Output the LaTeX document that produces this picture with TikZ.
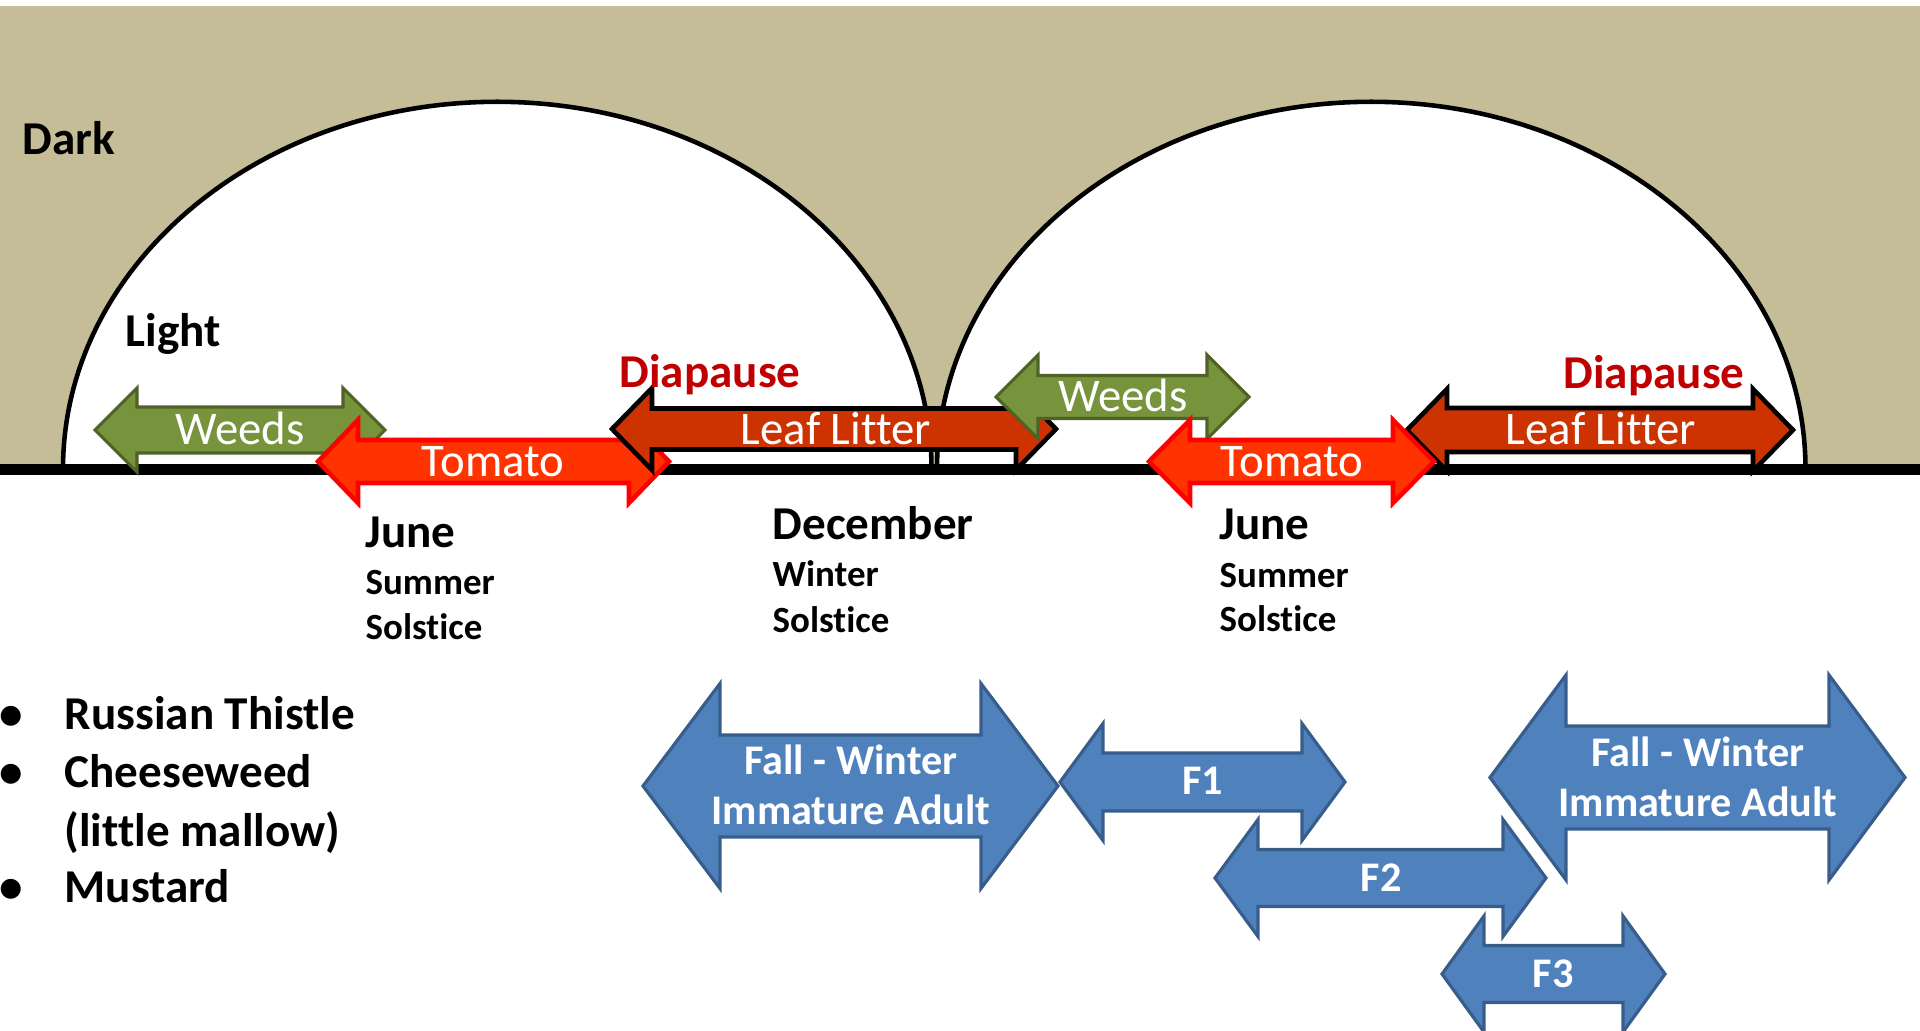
\documentclass[tikz,border=0pt]{standalone}
\usepackage{fontspec}
\setmainfont{Carlito}[Ligatures=NoCommon]

\definecolor{tanbg}{HTML}{C4BD97}
\definecolor{weedgreen}{HTML}{77933C}
\definecolor{weedline}{HTML}{4F6228}
\definecolor{tomatored}{HTML}{FF3300}
\definecolor{litterred}{HTML}{CC3300}
\definecolor{stageblue}{HTML}{4F81BD}
\definecolor{stageline}{HTML}{385D8A}
\definecolor{diared}{HTML}{C00000}

% style, left tip, right tip, middle, half height, half body, head length
\newcommand{\twoway}[7]{%
  \draw[#1] (#2,#4) -- ({#2+#7},{#4-#5}) -- ({#2+#7},{#4-#6}) -- ({#3-#7},{#4-#6})
    -- ({#3-#7},{#4-#5}) -- (#3,#4) -- ({#3-#7},{#4+#5}) -- ({#3-#7},{#4+#6})
    -- ({#2+#7},{#4+#6}) -- ({#2+#7},{#4+#5}) -- cycle;}

\tikzset{
  bigtext/.style={font=\fontsize{13.4}{16}\selectfont\bfseries, inner sep=0, anchor=base west},
  smalltext/.style={font=\fontsize{10.5}{12}\selectfont\bfseries, inner sep=0, anchor=base west},
  bandtext/.style={font=\fontsize{13.3}{16}\selectfont, text=white, inner sep=0, anchor=base},
  stagetext/.style={font=\fontsize{12}{14}\selectfont\bfseries, text=white, inner sep=0, anchor=base},
  weedsband/.style={fill=weedgreen, draw=weedline, line width=0.9pt},
  tomatoband/.style={fill=tomatored, draw=red, line width=1.3pt},
  litterband/.style={fill=litterred, draw=black, line width=1.3pt},
  stageband/.style={fill=stageblue, draw=stageline, line width=0.9pt},
}

\begin{document}
\begin{tikzpicture}[x=0.01cm, y=-0.01cm]

    \useasboundingbox (0,0) rectangle (1920,1031);

    \fill[tanbg] (0,6) rectangle (1920,469);
    \fill[white] (63,469) arc[start angle=180, end angle=0, x radius=4.34cm, y radius=3.67cm] -- cycle;
    \fill[white] (937,469) arc[start angle=180, end angle=0, x radius=4.34cm, y radius=3.67cm] -- cycle;
    \draw[line width=1.3pt] (63,469) arc[start angle=180, end angle=0, x radius=4.34cm, y radius=3.67cm];
    \draw[line width=1.3pt] (937,469) arc[start angle=180, end angle=0, x radius=4.34cm, y radius=3.67cm];
    \draw[line width=3.1pt] (0,469.5) -- (1920,469.5);

    \node[bigtext] (dark) at (22,155) {Dark};
    \node[bigtext] (light) at (125,347) {Light};

    \twoway{weedsband}{95}{385}{430}{42}{23}{42}
    \node[bandtext] (weeds1) at (240,445) {Weeds};
    \twoway{tomatoband}{318}{669}{461.5}{41.5}{21.5}{40}
    \node[bandtext] (tomato1) at (493,477) {Tomato};
    \twoway{litterband}{612}{1056}{429}{41}{20.5}{40}
    \node[bandtext] (litter1) at (836,445) {Leaf Litter};
    \twoway{weedsband}{996}{1249}{397}{42}{21.5}{42}
    \node[bandtext] (weeds2) at (1123,412) {Weeds};
    \twoway{litterband}{1407}{1793}{430}{41}{22}{40}
    \node[bandtext] (litter2) at (1601,445) {Leaf Litter};
    \twoway{tomatoband}{1149}{1434}{461.5}{41.5}{21.5}{41}
    \node[bandtext] (tomato2) at (1292,477) {Tomato};

    \node[bigtext, text=diared] (diapause1) at (619,388) {Diapause};
    \node[bigtext, text=diared] (diapause2) at (1563,389) {Diapause};

    \node[bigtext] (june1) at (365,548) {June};
    \node[smalltext] (summer1) at (365,595) {Summer};
    \node[smalltext] (solstice1) at (365,640) {Solstice};
    \node[bigtext] (december) at (772,540) {December};
    \node[smalltext] (winter) at (772,587) {Winter};
    \node[smalltext] (solstice2) at (772,633) {Solstice};
    \node[bigtext] (june2) at (1219,540) {June};
    \node[smalltext] (summer2) at (1219,588) {Summer};
    \node[smalltext] (solstice3) at (1219,632) {Solstice};

    \node[bigtext, anchor=base] (dot1) at (11,730) {\textbullet};
    \node[bigtext] (thistle) at (64,730) {Russian Thistle};
    \node[bigtext, anchor=base] (dot2) at (11,788) {\textbullet};
    \node[bigtext] (cheeseweed) at (64,788) {Cheeseweed};
    \node[bigtext] (mallow) at (64,847) {(little mallow)};
    \node[bigtext, anchor=base] (dot3) at (11,903) {\textbullet};
    \node[bigtext] (mustard) at (64,903) {Mustard};

    \twoway{stageband}{643}{1058}{786}{102.5}{51}{77}
    \node[stagetext] (fall1) at (851,775) {Fall - Winter};
    \node[stagetext] (adult1) at (851,825) {Immature Adult};
    \twoway{stageband}{1060}{1345}{782}{58.5}{29}{43}
    \node[stagetext] (f1) at (1203,795) {F1};
    \twoway{stageband}{1215}{1546}{878}{58.5}{28.5}{43}
    \node[stagetext] (f2) at (1381,892) {F2};
    \twoway{stageband}{1490}{1905}{777.5}{102.5}{51.5}{76}
    \node[stagetext] (fall2) at (1698,767) {Fall - Winter};
    \node[stagetext] (adult2) at (1698,817) {Immature Adult};
    \twoway{stageband}{1442}{1665}{974}{58}{28.5}{42}
    \node[stagetext] (f3) at (1553,988) {F3};

\end{tikzpicture}
\end{document}
